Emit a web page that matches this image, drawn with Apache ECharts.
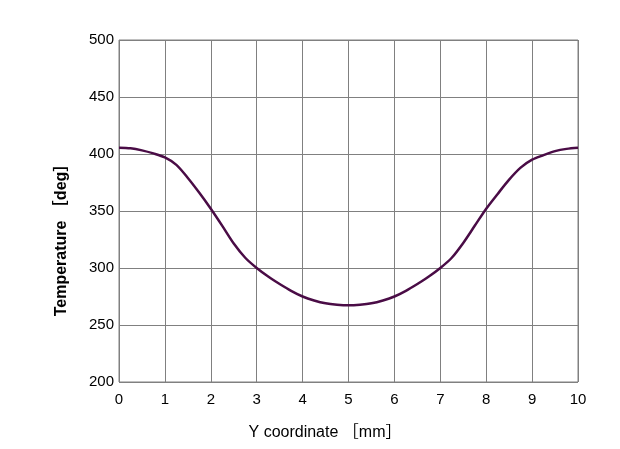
<!DOCTYPE html>
<html><head><meta charset="utf-8">
<script src="https://cdn.jsdelivr.net/npm/echarts@6/dist/echarts.min.js"></script>
<style>html,body{margin:0;padding:0;background:#fff}#c{width:620px;height:449px}</style>
</head><body><div id="c"></div>
<script>
const xValues = [0,0.25,0.5,0.75,1,1.25,1.5,1.75,2,2.25,2.5,2.75,3,3.25,3.5,3.75,4,4.25,4.5,4.75,5,
                 5.25,5.5,5.75,6,6.25,6.5,6.75,7,7.25,7.5,7.75,8,8.25,8.5,8.75,9,9.25,9.5,9.75,10];
const temps   = [405.5,405,403.2,400.5,397,390.5,379,366,352,337,321.5,309,300,292.5,286,280,275,271.5,269,267.8,267.3,
                 267.8,269,271.5,275,280,286,292.5,300,309,322,337,352,365,377.5,388,395,399,402.5,404.5,405.5];
const xAxisTitle = 'Y coordinate ［mm］';
const yAxisTitle = 'Temperature ［deg］';

const chart = echarts.init(document.getElementById('c'), null, {renderer:'canvas'});
const font = 'Liberation Sans, Arial, "Noto Sans CJK JP", sans-serif';
chart.setOption({
  animation:false,
  backgroundColor:'#fff',
  grid:{left:119, top:40, right:42, bottom:67, show:true, borderColor:'#808080', borderWidth:1},
  xAxis:{type:'value', min:0, max:10, interval:1,
    axisLine:{show:false}, axisTick:{show:false},
    splitLine:{show:true, lineStyle:{color:'#808080', width:1}},
    axisLabel:{color:'#000', fontSize:15, fontFamily:font, margin:10}},
  yAxis:{type:'value', min:200, max:500, interval:50,
    axisLine:{show:false}, axisTick:{show:false},
    splitLine:{show:true, lineStyle:{color:'#808080', width:1}},
    axisLabel:{color:'#000', fontSize:15, fontFamily:font, margin:5}},
  graphic:[
    {type:'text', x:325, y:433, style:{text:xAxisTitle, font:'16px '+font, fill:'#000', textAlign:'center', textVerticalAlign:'middle'}},
    {type:'text', x:62, y:236, rotation:Math.PI/2, style:{text:yAxisTitle, font:'bold 16px '+font, fill:'#000', textAlign:'center', textVerticalAlign:'middle'}}
  ],
  series:[{type:'line', data:xValues.map((x,i)=>[x,temps[i]]), smooth:0.3, showSymbol:false,
    lineStyle:{color:'#4a0c46', width:2.5}}]
});
</script></body></html>
